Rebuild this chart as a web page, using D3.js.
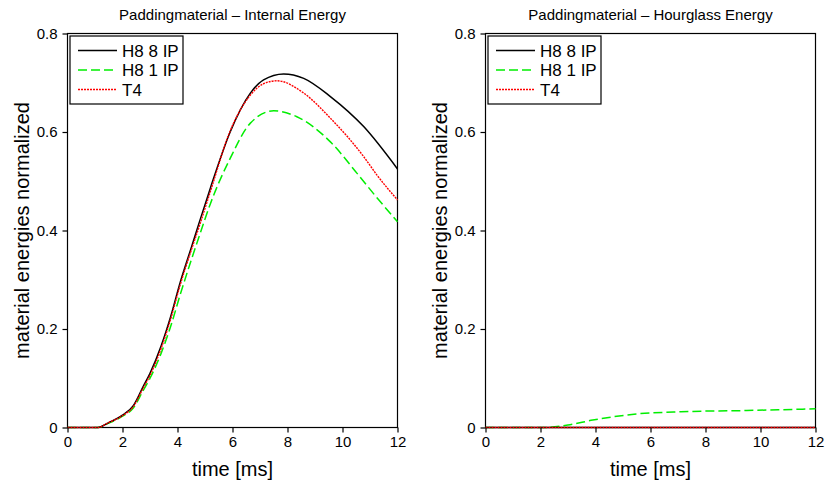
<!DOCTYPE html>
<html>
<head>
<meta charset="utf-8">
<script src="https://cdn.jsdelivr.net/npm/d3@7"></script>
<style>
  body { margin: 0; background: #fff; }
  text { font-family: "Liberation Sans", Arial, sans-serif; fill: #000; }
</style>
</head>
<body>
<svg id="chart" width="826" height="482"></svg>
<script>
// data
var seriesNames = ["H8 8 IP", "H8 1 IP", "T4"];

var timeH8x8 = [0, 1.0, 1.1, 1.5, 2.0, 2.4, 2.75, 3.0, 3.4, 3.75, 4.1, 4.5, 4.8, 5.2, 5.9, 6.65, 7.13, 7.86, 8.59, 9.56, 10.77, 12];
var internalH8x8 = [0, 0, 0, 0.01, 0.025, 0.045, 0.083, 0.11, 0.165, 0.225, 0.295, 0.365, 0.418, 0.487, 0.598, 0.679, 0.706, 0.718, 0.709, 0.672, 0.611, 0.525];

var timeH8x1 = [0, 1.0, 1.1, 1.5, 2.0, 2.4, 2.75, 3.0, 3.4, 3.75, 4.1, 4.5, 4.8, 5.2, 5.92, 6.65, 7.5, 8.34, 9.56, 10.53, 11.26, 12];
var internalH8x1 = [0, 0, 0, 0.009, 0.023, 0.04, 0.075, 0.1, 0.15, 0.205, 0.27, 0.34, 0.39, 0.455, 0.547, 0.618, 0.643, 0.631, 0.58, 0.516, 0.466, 0.418];

var timeT4 = [0, 1.0, 1.1, 1.5, 2.0, 2.4, 2.75, 3.0, 3.4, 3.75, 4.1, 4.5, 4.8, 5.2, 5.9, 6.65, 7.13, 7.62, 8.59, 9.56, 10.77, 11.26, 12];
var internalT4 = [0, 0, 0, 0.01, 0.024, 0.043, 0.08, 0.106, 0.16, 0.22, 0.29, 0.36, 0.41, 0.48, 0.6, 0.675, 0.698, 0.704, 0.679, 0.628, 0.55, 0.512, 0.462];

var timeHourglass = [0, 2.1, 3.0, 3.9, 5.4, 7.1, 9.5, 12];
var hourglassH8x1 = [0, 0, 0.005, 0.015, 0.027, 0.032, 0.0345, 0.038];
var timeFlat = [0, 12];
var hourglassH8x8 = [0, 0];
var hourglassT4 = [0, 0];

var xTicks = [0, 2, 4, 6, 8, 10, 12];
var yTicks = [0, 0.2, 0.4, 0.6, 0.8];

var styles = [
  {color: "#000000", width: 1.5, dash: null},
  {color: "#00ee00", width: 1.5, dash: "9,4"},
  {color: "#ff0000", width: 1.4, dash: "2,1"}
];

var svg = d3.select("#chart");
var plotW = 330, plotH = 394, plotTop = 33.5;

var panels = [
  {left: 67.5, title: "Paddingmaterial \u2013 Internal Energy",
   lines: [[timeH8x8, internalH8x8], [timeH8x1, internalH8x1], [timeT4, internalT4]]},
  {left: 485.5, title: "Paddingmaterial \u2013 Hourglass Energy",
   lines: [[timeFlat, hourglassH8x8], [timeHourglass, hourglassH8x1], [timeFlat, hourglassT4]]}
];

var drawPanel = function(p){
  var g = svg.append("g").attr("transform", "translate(" + p.left + "," + plotTop + ")");
  var x = d3.scaleLinear().domain([0, 12]).range([0, plotW]);
  var y = d3.scaleLinear().domain([0, 0.8]).range([plotH, 0]);

  // frame first, curves are drawn over it
  g.append("rect").attr("width", plotW).attr("height", plotH)
    .attr("fill", "none").attr("stroke", "#000").attr("stroke-width", 1.2);

  // lines: green first, then black, red on top
  var line = d3.line().curve(d3.curveMonotoneX)
    .x(function(d){ return x(d[0]); })
    .y(function(d){ return y(d[1]); });
  [1, 0, 2].forEach(function(i){
    var pts = p.lines[i][0].map(function(t, k){ return [t, p.lines[i][1][k]]; });
    g.append("path").attr("d", line(pts))
      .attr("fill", "none")
      .attr("stroke", styles[i].color)
      .attr("stroke-width", styles[i].width)
      .attr("stroke-dasharray", styles[i].dash);
  });

  var xAxis = g.append("g").attr("transform", "translate(0," + plotH + ")")
    .call(d3.axisBottom(x).tickValues(xTicks).tickSize(5).tickPadding(4).tickFormat(d3.format("d")));
  var yAxis = g.append("g")
    .call(d3.axisLeft(y).tickValues(yTicks).tickSize(5).tickPadding(5).tickFormat(function(d){ return d === 0 ? "0" : d3.format(".1f")(d); }));
  [xAxis, yAxis].forEach(function(a){
    a.select(".domain").remove();
    a.selectAll("line").attr("stroke", "#000").attr("stroke-width", 1.2);
    a.selectAll("text").attr("font-size", 15).attr("font-family", "Liberation Sans, Arial, sans-serif").attr("fill", "#000");
  });

  g.append("text").attr("x", plotW / 2).attr("y", 19.5 - plotTop)
    .attr("text-anchor", "middle").attr("font-size", 15).text(p.title);
  g.append("text").attr("x", plotW / 2).attr("y", 476 - plotTop)
    .attr("text-anchor", "middle").attr("font-size", 20).text("time [ms]");
  g.append("text").attr("transform", "translate(" + (-38.5) + "," + (plotH / 2) + ") rotate(-90)")
    .attr("text-anchor", "middle").attr("font-size", 20).text("material energies normalized");

  // legend
  var lg = g.append("g").attr("transform", "translate(2.5,2.5)");
  lg.append("rect").attr("width", 113).attr("height", 68)
    .attr("fill", "#fff").attr("stroke", "#000").attr("stroke-width", 1.2);
  seriesNames.forEach(function(name, i){
    var ly = 14.5 + i * 19.5;
    lg.append("line").attr("x1", 8).attr("x2", 47).attr("y1", ly).attr("y2", ly)
      .attr("stroke", styles[i].color).attr("stroke-width", styles[i].width)
      .attr("stroke-dasharray", styles[i].dash);
    lg.append("text").attr("x", 52).attr("y", ly + 6).attr("font-size", 17).text(name);
  });
};

panels.forEach(drawPanel);
</script>
</body>
</html>
